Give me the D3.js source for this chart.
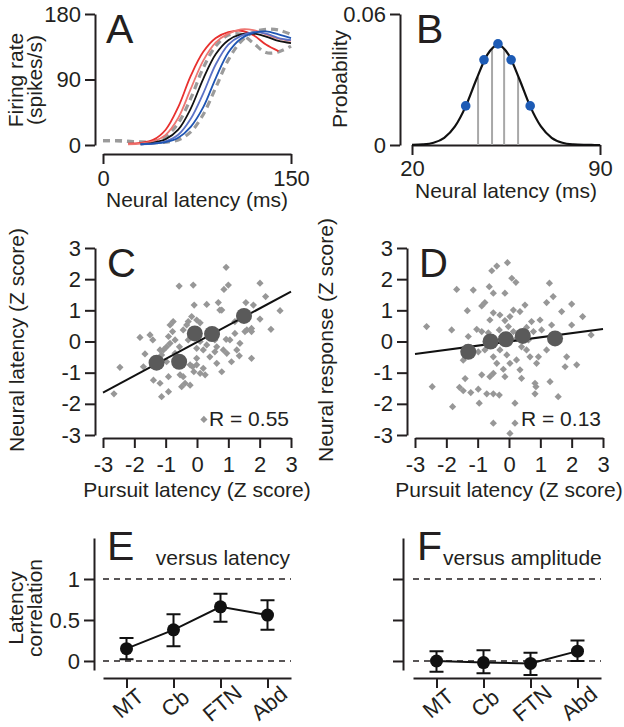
<!DOCTYPE html>
<html>
<head>
<meta charset="utf-8">
<script src="https://cdn.jsdelivr.net/npm/d3@7"></script>
<style>
  body { margin: 0; background: #fff; }
  svg { display: block; }
</style>
</head>
<body>
<div id="chart"></div>
<script>
// ---- data ----
// A: firing rate curves (spikes/s) sampled every 10 ms
const timeA = [0, 10, 20, 30, 40, 50, 60, 70, 80, 90, 100, 110, 120, 130, 140, 150];
const rateRed = [null, null, 2, 3, 7, 21, 52, 95, 128, 147, 155, 157, 151, 138, 129, null];
const rateSalmon = [null, null, 1, 2, 5, 14, 37, 77, 116, 141, 153, 159, 158, 152, 146, 143];
const rateBlack = [null, null, null, 1, 3, 8, 21, 50, 91, 125, 144, 152, 153, 149, 143, 140];
const rateLightBlue = [null, null, null, 1, 2, 5, 14, 36, 71, 111, 138, 150, 155, 153, 147, 144];
const rateBlue = [null, null, null, 1, 2, 4, 10, 25, 52, 92, 127, 146, 154, 156, 152, 147];
const rateGrayEarly = [6, 6, 5, 4, 5, 12, 30, 64, 106, 136, 151, 152, 140, 127, 128, 136];
const rateGrayLate = [6, 6, 5, 4, 3, 4, 7, 18, 42, 79, 117, 142, 155, 159, 158, 152];

// B: latency distribution
const latencyB = [20, 24, 28, 32, 36, 40, 44, 48, 52, 56, 60, 64, 68, 72, 76, 80, 84, 88, 90];
const probB = [0.00005, 0.00026, 0.00102, 0.0033, 0.0085, 0.0177, 0.0301, 0.0413, 0.0459, 0.0413,
  0.0301, 0.0177, 0.0085, 0.0033, 0.00102, 0.00026, 0.00005, 0.00001, 0];
const sampleLatency = [40, 46.8, 52, 56.9, 64];
const sampleProb = [0.0179, 0.039, 0.0463, 0.039, 0.0179];
const binLatency = [44.6, 49.8, 54.3, 59.5];
const binProb = [0.031, 0.0444, 0.0444, 0.031];

// C: neural latency vs pursuit latency
const scatterCX = [0.93, -0.57, -0.12, 0.86, 1.0, 2.01, 0.31, -0.09, 0.68, 0.79, 1.56, 1.8, 2.19, 2.65, 2.01, 2.36,
  1.21, 1.59, 1.74, 1.74, 1.27, 1.35, 0.95, 0.93, 1.05, 1.21, 0.57, 0.79, 0.41, 0.2, 0.31, 0.1, -0.01, -0.01, 0.1,
  0.26, -0.14, -0.22, -0.1, -0.28, -0.33, -0.17, -0.01, 0.1, -0.44, -0.76, -0.86, -0.78, -0.91, -0.86, -0.97, -0.7,
  -1.5, -1.82, -1.41, -1.07, -1.66, -1.71, -2.46, -2.65, -1.39, -1.18, -1.13, -0.91, -0.91, -0.49, -0.38, -0.54,
  -0.44, -0.22, -0.7, -1.13, -0.97, 0.63, 0.57, 0.63, 1.37, 1.53, 0.73, -0.28, -0.56, 0.2, -0.01, 1.1, 1.74, 0.84,
  -0.54, -1.18, 0.22];
const scatterCY = [2.38, 1.78, 1.81, 1.67, 1.81, 1.87, 1.19, 1.17, 1.25, 1.01, 1.25, 1.17, 1.44, 0.99, 0.72, 0.39,
  0.64, 0.37, 0.42, -0.54, -0.27, -0.46, -0.38, 0.07, 0.05, 0.26, 0.05, -0.97, -0.49, -0.27, -0.11, 0, -0.22, -0.54,
  -1.02, -1.07, -0.81, -0.75, -0.97, 0.64, 0.53, 0.8, 0.69, 0.6, 0.37, 0.64, 0.53, 0.32, 0.16, -0.06, -0.17, 0.05,
  0.21, 0.13, 0.05, -0.27, -0.4, -0.81, -0.83, -1.68, -1.24, -1.34, -1.77, -1.61, -1.13, -1.45, -1.34, -1.07,
  -1.13, -1.4, -0.38, -0.43, -0.65, -0.7, -0.33, -0.17, -0.06, 0.32, 1.01, 0.05, -0.17, -0.86, -0.75, -0.65, 0.32,
  -0.27, -0.59, -0.27, -2.5];
const groupCX = [-1.29, -0.57, -0.07, 0.48, 1.5];
const groupCY = [-0.68, -0.65, 0.26, 0.24, 0.82];
const fitCX = [-3, 3];
const fitCY = [-1.64, 1.6];

// D: neural response vs pursuit latency
const scatterDX = [-0.05, -0.39, -0.55, 0.22, 0.09, -1.14, -1.67, -0.5, -0.13, 1.29, 1.41, 1.2, 2.0, 1.68, 2.35,
  -1.33, -0.77, -0.87, 0.51, 0.35, 0.14, 0.03, -0.13, -0.29, -0.5, -0.61, 0.72, 0.99, 1.36, 2.0, 2.62, -2.63, -1.83,
  -1.03, -0.87, -0.31, -0.02, 0.14, 0.56, 0.78, 1.04, -0.77, -0.98, -0.5, -0.29, -0.39, -0.07, 0.03, 0.24, 0.56,
  0.67, 0.94, 0.88, 1.2, 1.79, 2.16, -1.46, -0.18, -0.5, -0.87, -0.61, -1.4, -0.13, 0.35, 0.83, 0.86, 1.31, -2.45,
  -1.58, -1.46, -1.22, -0.98, -0.71, -0.5, -0.31, -0.95, -1.8, 0.4, 1.57, 0.83, 0.19, -0.5, 0.19, 0.03, -0.66, 0.24,
  0.62, -1.3, -0.55, 0.4, -0.23, 1.31, 1.84, -0.63];
const scatterDY = [2.53, 2.42, 2.27, 1.9, 2.03, 1.65, 1.67, 1.55, 1.55, 1.87, 1.44, 1.25, 1.2, 0.96, 0.8, 0.99, 1.25,
  1.14, 1.17, 0.96, 1.01, 0.8, 0.67, 0.85, 0.92, 0.69, 0.64, 0.69, 0.53, 0.53, 0.21, 0.48, 0.37, 0.39, 0.32, 0.37,
  0.48, 0.32, 0.45, 0.32, 0.37, -0.27, -0.33, -0.49, -0.27, -0.7, -0.43, -0.7, -0.59, -0.27, -0.49, -0.49, -0.7,
  -0.27, -0.81, -0.75, -0.6, -0.89, -1.02, -1.07, -1.13, -1.19, -1.13, -0.91, -1.34, -1.45, -1.29, -1.45, -1.47,
  -1.58, -1.64, -1.53, -1.68, -1.68, -1.72, -1.98, -2.09, -1.18, -1.77, -1.68, -1.98, -2.62, -2.62, -2.95, 0.28,
  0.1, 0.05, 0.16, -0.11, -0.17, 0.16, 0.16, -0.49, 1.76];
const groupDX = [-1.3, -0.59, -0.1, 0.44, 1.47];
const groupDY = [-0.33, 0, 0.07, 0.18, 0.1];
const fitDX = [-3, 3];
const fitDY = [-0.4, 0.4];

// E, F: correlations by area
const areas = ["MT", "Cb", "FTN", "Abd"];
const corrLatency = [0.15, 0.38, 0.66, 0.56];
const corrLatencyLo = [0.02, 0.18, 0.48, 0.38];
const corrLatencyHi = [0.28, 0.57, 0.82, 0.74];
const corrAmp = [0.0, -0.02, -0.03, 0.12];
const corrAmpLo = [-0.13, -0.15, -0.17, 0.0];
const corrAmpHi = [0.12, 0.13, 0.10, 0.25];

// ---- drawing ----
const FONT = "'Liberation Sans', Arial, Helvetica, sans-serif";
const INK = "#231f20";
const FS = 21;      // titles
const TICK_FS = 22; // tick labels

const svg = d3.select("#chart").append("svg")
  .attr("width", 624)
  .attr("height", 727)
  .attr("font-family", FONT)
  .attr("fill", INK);

// plain hyphen minus, no trailing zeros
const plain = d => String(d);

function styleAxis(g) {
  g.attr("font-size", TICK_FS).attr("font-family", FONT);
  g.select(".domain").attr("stroke", INK).attr("stroke-width", 2);
  g.selectAll(".tick line").attr("stroke", INK).attr("stroke-width", 2);
  g.selectAll(".tick text").attr("fill", INK);
}

function addText(x, y, str, opts) {
  opts = opts || {};
  const t = svg.append("text")
    .attr("x", x).attr("y", y)
    .attr("font-size", opts.size || FS)
    .attr("text-anchor", opts.anchor || "start")
    .attr("fill", INK)
    .text(str);
  if (opts.rotate) t.attr("transform", `rotate(${opts.rotate},${x},${y})`);
  return t;
}

// ---------- Panel A ----------
const xA = d3.scaleLinear().domain([0, 150]).range([103, 291]);
const yA = d3.scaleLinear().domain([0, 180]).range([145, 14]);

svg.append("g").attr("transform", "translate(95,0)")
  .call(d3.axisLeft(yA).tickValues([0, 90, 180]).tickFormat(plain).tickSize(10).tickSizeOuter(0).tickPadding(4))
  .call(styleAxis);
svg.append("g").attr("transform", "translate(0,154)")
  .call(d3.axisBottom(xA).tickValues([0, 150]).tickFormat(plain).tickSize(10).tickSizeOuter(0).tickPadding(6))
  .call(styleAxis);

const lineA = d3.line()
  .defined(d => d[1] !== null)
  .x(d => xA(d[0]))
  .y(d => yA(d[1]))
  .curve(d3.curveCatmullRom);

const curvesA = [
  { rates: rateGrayEarly, color: "#9b9b9b", width: 3.2, dash: "7,5" },
  { rates: rateGrayLate, color: "#9b9b9b", width: 3.2, dash: "7,5" },
  { rates: rateRed, color: "#e8302e", width: 1.8 },
  { rates: rateSalmon, color: "#ee7672", width: 1.8 },
  { rates: rateBlack, color: "#111111", width: 1.8 },
  { rates: rateLightBlue, color: "#5b72c6", width: 1.8 },
  { rates: rateBlue, color: "#1f55b3", width: 1.8 }
];
curvesA.forEach(c => {
  svg.append("path")
    .datum(timeA.map((t, i) => [t, c.rates[i]]))
    .attr("fill", "none")
    .attr("stroke", c.color)
    .attr("stroke-width", c.width)
    .attr("stroke-dasharray", c.dash || null)
    .attr("d", lineA);
});

addText(106, 43, "A", { size: 41 });
addText(23, 80, "Firing rate", { anchor: "middle", rotate: -90 });
addText(42, 80, "(spikes/s)", { anchor: "middle", rotate: -90 });
addText(197, 207, "Neural latency (ms)", { anchor: "middle" });

// ---------- Panel B ----------
const xB = d3.scaleLinear().domain([20, 90]).range([412, 600]);
const yB = d3.scaleLinear().domain([0, 0.06]).range([145, 14]);

svg.append("g").attr("transform", "translate(400,0)")
  .call(d3.axisLeft(yB).tickValues([0, 0.06]).tickFormat(d => d === 0 ? "0" : d3.format(".2f")(d))
    .tickSize(10).tickSizeOuter(0).tickPadding(4))
  .call(styleAxis);
svg.append("g").attr("transform", "translate(0,145)")
  .call(d3.axisBottom(xB).tickValues([20, 90]).tickFormat(plain).tickSize(10).tickSizeOuter(0).tickPadding(5))
  .call(styleAxis);

svg.append("g").selectAll("line")
  .data(binLatency)
  .join("line")
  .attr("x1", d => xB(d)).attr("x2", d => xB(d))
  .attr("y1", yB(0))
  .attr("y2", (d, i) => yB(binProb[i]))
  .attr("stroke", "#a8a8a8")
  .attr("stroke-width", 2);

svg.append("path")
  .datum(latencyB.map((t, i) => [t, probB[i]]))
  .attr("fill", "none")
  .attr("stroke", "#111")
  .attr("stroke-width", 2.2)
  .attr("d", d3.line().x(d => xB(d[0])).y(d => yB(d[1])).curve(d3.curveMonotoneX));

svg.append("g").selectAll("circle")
  .data(sampleLatency)
  .join("circle")
  .attr("cx", d => xB(d))
  .attr("cy", (d, i) => yB(sampleProb[i]))
  .attr("r", 4.8)
  .attr("fill", "#1d5bb5");

addText(416, 43, "B", { size: 41 });
addText(347, 79, "Probability", { anchor: "middle", rotate: -90 });
addText(506, 198, "Neural latency (ms)", { anchor: "middle" });

// ---------- Panels C and D (scatter) ----------
function scatterPanel(opts) {
  const x = d3.scaleLinear().domain([-3, 3]).range([opts.x0, opts.x0 + 188]);
  const y = d3.scaleLinear().domain([-3, 3]).range([435, 248]);
  const ticks = [-3, -2, -1, 0, 1, 2, 3];

  svg.append("g").attr("transform", `translate(${opts.yAxisX},0)`)
    .call(d3.axisLeft(y).tickValues(ticks).tickFormat(plain).tickSize(10).tickSizeOuter(0).tickPadding(4))
    .call(styleAxis);
  svg.append("g").attr("transform", "translate(0,438)")
    .call(d3.axisBottom(x).tickValues(ticks).tickFormat(plain).tickSize(10).tickSizeOuter(0).tickPadding(8))
    .call(styleAxis);

  const diamond = d3.symbol().type(d3.symbolSquare).size(26);
  svg.append("g").selectAll("path")
    .data(opts.sx)
    .join("path")
    .attr("d", diamond)
    .attr("transform", (d, i) => `translate(${x(d)},${y(opts.sy[i])}) rotate(45)`)
    .attr("fill", "#979797");

  svg.append("line")
    .attr("x1", x(opts.fx[0])).attr("y1", y(opts.fy[0]))
    .attr("x2", x(opts.fx[1])).attr("y2", y(opts.fy[1]))
    .attr("stroke", "#111").attr("stroke-width", 2);

  svg.append("g").selectAll("circle")
    .data(opts.gx)
    .join("circle")
    .attr("cx", d => x(d))
    .attr("cy", (d, i) => y(opts.gy[i]))
    .attr("r", 8)
    .attr("fill", "#5a5a5a");

  addText(opts.x0 + 186, 426, opts.rText, { anchor: "end" });
  addText(opts.x0 + 4, 277, opts.letter, { size: 40 });
  addText(opts.x0 + 94, 497, "Pursuit latency (Z score)", { anchor: "middle" });
  addText(opts.titleX, 340, opts.yTitle, { anchor: "middle", rotate: -90 });
}

scatterPanel({
  x0: 103, yAxisX: 95, sx: scatterCX, sy: scatterCY, gx: groupCX, gy: groupCY,
  fx: fitCX, fy: fitCY, rText: "R = 0.55", letter: "C",
  titleX: 24, yTitle: "Neural latency (Z score)"
});
scatterPanel({
  x0: 415, yAxisX: 407, sx: scatterDX, sy: scatterDY, gx: groupDX, gy: groupDY,
  fx: fitDX, fy: fitDY, rText: "R = 0.13", letter: "D",
  titleX: 333, yTitle: "Neural response (Z score)"
});

// ---------- Panels E and F (correlations) ----------
function corrPanel(opts) {
  const x = d3.scalePoint().domain(areas).range([opts.x0, opts.x0 + 188]).padding(0.5);
  const y = d3.scaleLinear().domain([-0.11, 1.5]).range([670, 538]);

  const yAxis = d3.axisLeft(y).tickValues([0, 0.5, 1]).tickSize(10).tickSizeOuter(0).tickPadding(4);
  yAxis.tickFormat(opts.labels ? plain : "");
  svg.append("g").attr("transform", `translate(${opts.yAxisX},0)`)
    .call(yAxis)
    .call(styleAxis);

  const xg = svg.append("g").attr("transform", "translate(0,678)")
    .call(d3.axisBottom(x).tickSize(10).tickSizeOuter(0))
    .call(styleAxis);
  xg.selectAll(".tick text")
    .attr("text-anchor", "middle")
    .attr("dy", null)
    .attr("y", null)
    .attr("transform", "translate(6,31) rotate(-40)");

  [0, 1].forEach(v => {
    svg.append("line")
      .attr("x1", opts.x0).attr("x2", opts.x0 + 188)
      .attr("y1", y(v)).attr("y2", y(v))
      .attr("stroke", INK).attr("stroke-width", 1.6)
      .attr("stroke-dasharray", "6,5");
  });

  const g = svg.append("g");
  g.append("path")
    .datum(areas)
    .attr("fill", "none")
    .attr("stroke", "#111")
    .attr("stroke-width", 2)
    .attr("d", d3.line().x(d => x(d)).y((d, i) => y(opts.mid[i])));

  g.selectAll(".err")
    .data(areas)
    .join("path")
    .attr("fill", "none")
    .attr("stroke", "#111")
    .attr("stroke-width", 2)
    .attr("d", (d, i) => {
      const cx = x(d), lo = y(opts.lo[i]), hi = y(opts.hi[i]);
      return `M${cx - 7},${hi}H${cx + 7}M${cx},${hi}V${lo}M${cx - 7},${lo}H${cx + 7}`;
    });

  g.selectAll("circle")
    .data(areas)
    .join("circle")
    .attr("cx", d => x(d))
    .attr("cy", (d, i) => y(opts.mid[i]))
    .attr("r", 6.5)
    .attr("fill", "#111");

  addText(opts.x0 + 4, 560, opts.letter, { size: 41 });
  addText(opts.noteX, 565, opts.note, { anchor: opts.noteAnchor });
}

corrPanel({
  x0: 103, yAxisX: 94, labels: true, mid: corrLatency, lo: corrLatencyLo, hi: corrLatencyHi,
  letter: "E", note: "versus latency", noteX: 290, noteAnchor: "end"
});
corrPanel({
  x0: 413, yAxisX: 403, labels: false, mid: corrAmp, lo: corrAmpLo, hi: corrAmpHi,
  letter: "F", note: "versus amplitude", noteX: 443, noteAnchor: "start"
});

addText(23, 608, "Latency", { anchor: "middle", rotate: -90 });
addText(42, 608, "correlation", { anchor: "middle", rotate: -90 });
</script>
</body>
</html>
